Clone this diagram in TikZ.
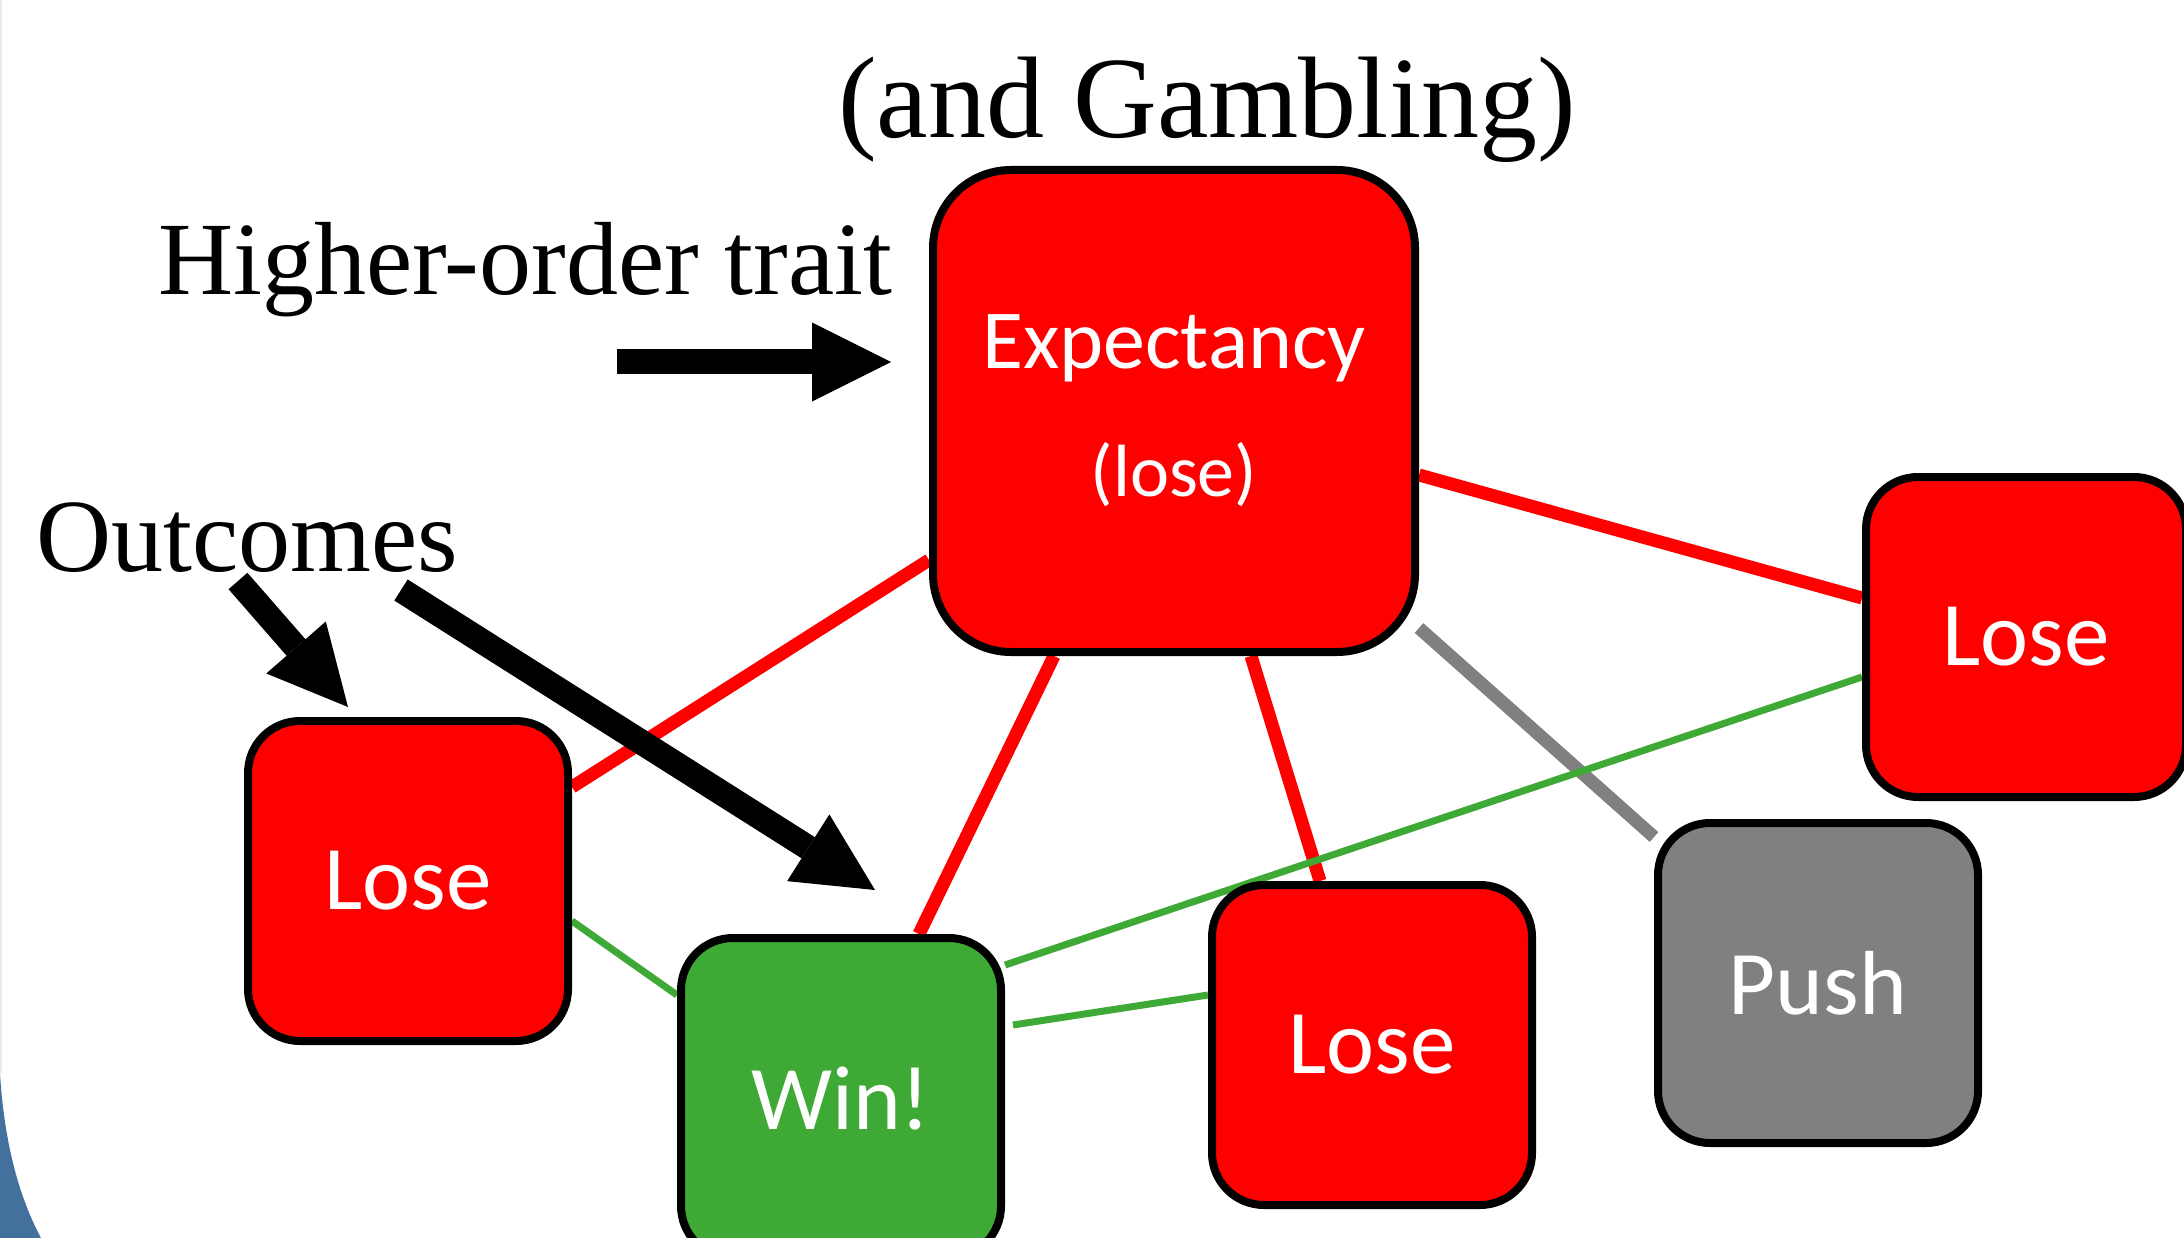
\documentclass[tikz,border=0pt]{standalone}
\usepackage{fontspec}
\setmainfont{Liberation Serif}
\newfontfamily\boxfont{Carlito}
\usetikzlibrary{arrows.meta}
\definecolor{lred}{RGB}{255,0,0}
\definecolor{wgreen}{RGB}{62,170,53}
\definecolor{pgray}{RGB}{128,128,128}
\definecolor{slideblue}{RGB}{68,112,157}
\definecolor{edgeblue}{RGB}{228,235,243}
\pgfdeclarelayer{bg}
\pgfsetlayers{bg,main}
\begin{document}
\begin{tikzpicture}[x=1pt,y=-1pt,
  box/.style={draw=black, line width=8pt, rounded corners=52pt,
    minimum width=320pt, minimum height=320pt, inner sep=0pt,
    text=white, font=\boxfont\fontsize{91}{110}\selectfont},
  redlink/.style={draw=lred, line width=13pt},
  graylink/.style={draw=pgray, line width=13pt},
  greenlink/.style={draw=wgreen, line width=7pt},
  bigarrow/.style={line width=25pt,
    -{Triangle[length=79pt 0 0, width=79pt 0 0, line width=0pt 0 0]}},
  lbl/.style={anchor=base west, inner sep=0pt, font=\fontsize{104}{120}\selectfont}
]
\useasboundingbox (0,0) rectangle (2184,1238);
\fill[edgeblue] (0,0) rectangle (2,1073);
\fill[slideblue] (0,1073) .. controls (4,1140) and (18,1195) .. (41,1238) -- (0,1238) -- cycle;

% boxes
\node[box, fill=lred, minimum width=482pt, minimum height=482pt, rounded corners=78pt,
  font=\boxfont\fontsize{84}{128}\selectfont, align=center] (exp) at (1174,411)
  {Expectancy\\{\fontsize{74}{128}\selectfont (lose)}};
\node[box, fill=lred] (lose1) at (408,881) {Lose};
\node[box, fill=wgreen] (win) at (841,1098) {Win!};
\node[box, fill=lred] (lose2) at (1372,1045) {Lose};
\node[box, fill=pgray] (push) at (1818,983) {Push};
\node[box, fill=lred] (lose3) at (2026,637) {Lose};

% texts
\node[lbl, font=\fontsize{116}{140}\selectfont] (title) at (838,138) {(and Gambling)};
\node[lbl] (trait) at (158,295) {Higher-order trait};
\node[lbl] (outc) at (36,571) {Outcomes};

% links
\begin{pgfonlayer}{bg}
\draw[redlink] ([yshift=-149pt]exp.west) -- ([yshift=94pt]lose1.east);
\draw[redlink] ([xshift=-120pt]exp.south) -- ([xshift=78pt]win.north);
\draw[redlink] ([xshift=77pt]exp.south) -- ([xshift=-52pt]lose2.north);
\draw[redlink] ([yshift=-64pt]exp.east) -- ([yshift=39pt]lose3.west);
\draw[graylink] ([yshift=-217pt]exp.east) -- ([yshift=146pt]push.west);
\draw[greenlink] ([yshift=-40pt]lose1.east) -- ([yshift=103pt]win.west);
\draw[greenlink] ([yshift=133pt]win.east) -- ([yshift=-40pt]lose3.west);
\draw[greenlink] ([xshift=8pt,yshift=73pt]win.east) -- ([yshift=50pt]lose2.west);
\end{pgfonlayer}

% black arrows
\coordinate (ta) at (617,362);
\coordinate (tb) at (891,362);
\coordinate (oa) at (238,581);
\coordinate (ob) at (348,707);
\coordinate (oc) at (401,590);
\coordinate (od) at (875,890);
\draw[bigarrow] (ta) -- (tb);
\draw[bigarrow] (oa) -- (ob);
\draw[bigarrow] (oc) -- (od);
\end{tikzpicture}
\end{document}
